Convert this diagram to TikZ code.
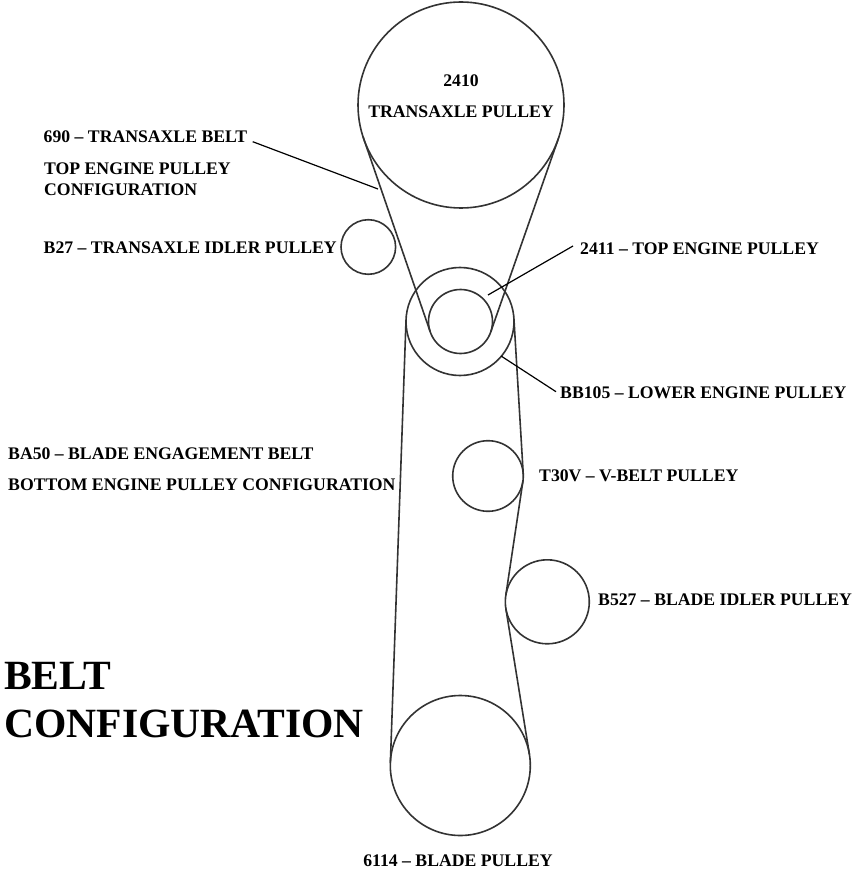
\documentclass[tikz,border=0pt]{standalone}
\usepackage{fontspec}
\setmainfont{Liberation Serif}
\usetikzlibrary{positioning}
\definecolor{BeltGray}{HTML}{333333}
\tikzset{
  pulley/.style={circle, draw=BeltGray, line width=1.6pt, inner sep=0pt, outer sep=0pt},
  belt/.style={draw=BeltGray, line width=1.6pt},
  leader/.style={draw=black, line width=1.2pt},
  lbl/.style={font=\bfseries\fontsize{17.7}{20}\selectfont, inner sep=0pt, anchor=base west},
  clbl/.style={font=\bfseries\fontsize{17.7}{20}\selectfont, inner sep=0pt, anchor=base},
  titlelbl/.style={font=\bfseries\fontsize{41.6}{46}\selectfont, inner sep=0pt, anchor=base west}
}
\begin{document}
\begin{tikzpicture}[x=1pt, y=-1pt]
\useasboundingbox (0,0) rectangle (853,874);
\node[pulley, minimum size=206pt] (transaxle) at (461,105) {};
\node[pulley, minimum size=64pt] (topeng) at (460.5,321.5) {};
\node[pulley, minimum size=108pt] (lowereng) at (460,321.5) {};
\node[pulley, minimum size=54.6pt] (txidler) at (368.3,247) {};
\node[pulley, minimum size=70.6pt] (vbelt) at (488,476) {};
\node[pulley, minimum size=84pt] (bladeidler) at (547.3,601.8) {};
\node[pulley, minimum size=140pt] (blade) at (460.3,765.5) {};
% belts
\draw[belt] (transaxle.198.8)--(topeng.198.8);
\draw[belt] (transaxle.-19)--(topeng.-19);
\draw[belt] (lowereng.178)--(blade.178);
\draw[belt] (lowereng.3.5)--(vbelt.3.5);
\draw[belt] (vbelt.-8.7)--(bladeidler.171.3);
\draw[belt] (bladeidler.189.4)--(blade.9.4);
% labels
\node[clbl] (l2410) at (461,86.7) {2410};
\node[clbl] (ltransaxle) at (461,117.3) {TRANSAXLE PULLEY};
\node[lbl] (l690) at (43.5,143) {690 – TRANSAXLE BELT};
\node[lbl] (ltop1) at (44,175) {TOP ENGINE PULLEY};
\node[lbl] (ltop2) at (44,196) {CONFIGURATION};
\node[lbl] (lb27) at (43.5,254) {B27 – TRANSAXLE IDLER PULLEY};
\node[lbl] (l2411) at (580,254.3) {2411 – TOP ENGINE PULLEY};
\node[lbl] (lbb105) at (560,398.3) {BB105 – LOWER ENGINE PULLEY};
\node[lbl] (lba50) at (8,459) {BA50 – BLADE ENGAGEMENT BELT};
\node[lbl] (lbottom) at (8,490.5) {BOTTOM ENGINE PULLEY CONFIGURATION};
\node[lbl] (lt30v) at (539,481.7) {T30V – V-BELT PULLEY};
\node[lbl] (lb527) at (598,605) {B527 – BLADE IDLER PULLEY};
\node[titlelbl] (ltitle1) at (4,689) {BELT};
\node[titlelbl] (ltitle2) at (4,737.7) {CONFIGURATION};
\node[clbl] (l6114) at (458,866.7) {6114 – BLADE PULLEY};
% leaders
\coordinate (p690) at (378,189);
\coordinate (s690) at (252.7,141.7);
\coordinate (p2411) at (488,295);
\coordinate (s2411) at (573,246);
\coordinate (sbb105) at (556,391.7);
\draw[leader] (s690)--(p690);
\draw[leader] (s2411)--(p2411);
\draw[leader] (lowereng.-40.5)--(sbb105);
\end{tikzpicture}
\end{document}
